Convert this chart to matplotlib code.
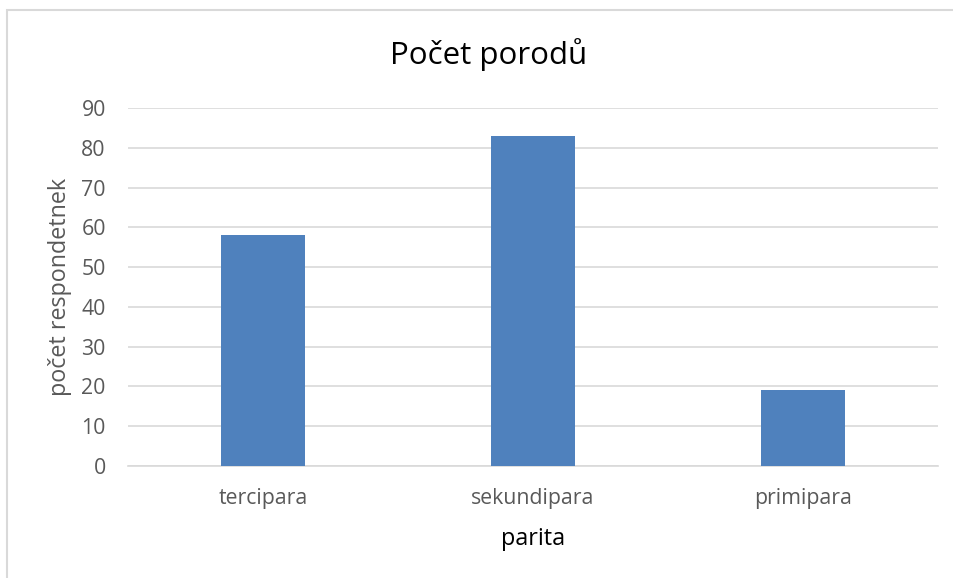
import matplotlib.pyplot as plt
from matplotlib.patches import Rectangle

categories = ['tercipara', 'sekundipara', 'primipara']
values = [58, 83, 19]
y_ticks = [0, 10, 20, 30, 40, 50, 60, 70, 80, 90]

plt.rcParams['font.family'] = ['Open Sans', 'DejaVu Sans']
text_grey = '#595959'

fig = plt.figure(figsize=(9.54, 5.78), dpi=100)
# thin chart frame like the source, running off the right and bottom
fig.patches.append(Rectangle((7 / 954, -0.1), 1.0, 1 - 10 / 578 + 0.1,
                             transform=fig.transFigure, fill=False,
                             edgecolor='#d9d9d9', linewidth=1.5))

ax = fig.add_axes([128 / 954, 1 - 466 / 578, (938 - 128) / 954, (466 - 108) / 578])
x = range(len(categories))
ax.bar(x, values, width=0.31, color='#4f81bd', zorder=3)

ax.set_xlim(-0.5, len(categories) - 0.5)
ax.set_ylim(0, 90)
ax.set_yticks(y_ticks)
ax.set_xticks(list(x))
ax.set_xticklabels(categories)
ax.grid(axis='y', color='#d9d9d9', linewidth=1.2, zorder=0)
for s in ['top', 'right', 'left']:
    ax.spines[s].set_visible(False)
ax.spines['bottom'].set_color('#d9d9d9')
ax.spines['bottom'].set_linewidth(1.2)
ax.tick_params(length=0, labelsize=15.3, colors=text_grey)
ax.tick_params(axis='x', pad=16)
ax.tick_params(axis='y', pad=16)

ax.set_xlabel('parita', fontsize=16.8, color='#000000', labelpad=13)
ax.set_ylabel('počet respondetnek', fontsize=16.8, color=text_grey, labelpad=7)
fig.text(489 / 954, 1 - 55 / 578, 'Počet porodů', fontsize=22.5, color='#000000',
         ha='center', va='center')

fig.savefig('out.png', dpi=100)
